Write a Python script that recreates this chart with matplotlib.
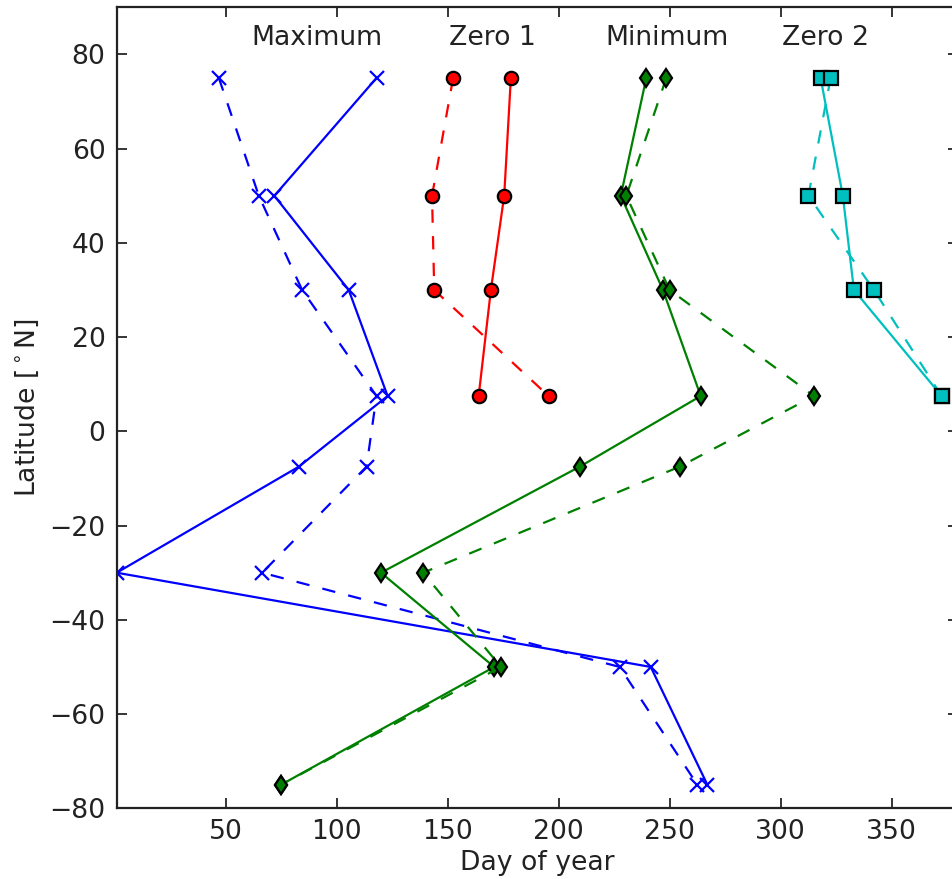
import matplotlib
matplotlib.use("Agg")
import matplotlib.pyplot as plt

lat8 = [75, 50, 30, 7.5, -7.5, -30, -50, -75]
lat4 = [75, 50, 30, 7.5]

max_solid = [118, 72, 105.5, 123, 83, 1, 241.5, 267]
max_dashed = [47, 65, 84.5, 118, 113.5, 66.5, 227.5, 262.5]

zero1_solid = [178.5, 175.5, 169.5, 164]
zero1_dashed = [152.5, 143, 144, 195.5]

min_solid = [239.5, 228, 247, 264, 209.5, 120, 171, 75]
min_dashed = [248.5, 230.5, 250, 315, 254.5, 139, 174, 75]

zero2_solid = [318, 328, 333, 372.5]
zero2_dashed = [322.5, 312.5, 342, 372.5]

labels = ["Maximum", "Zero 1", "Minimum", "Zero 2"]
label_x = [91, 170, 249, 320]
label_y = 83.5

xticks = [50, 100, 150, 200, 250, 300, 350]
yticks = [-80, -60, -40, -20, 0, 20, 40, 60, 80]

plt.rcParams['font.family'] = ['DejaVu Sans']
plt.rcParams['font.size'] = 12

fig = plt.figure(figsize=(952/160, 879/160), dpi=160, facecolor='white')
ax = fig.add_axes([116.7/952, (879-808.3)/879, 841.6/952, 801.0/879])

dash = (0, (6, 6))
lw = 1.0

ax.plot(max_solid, lat8, color='b', marker='x', ms=6, mew=1, lw=lw, ls='-')
ax.plot(max_dashed, lat8, color='b', marker='x', ms=6, mew=1, lw=lw, ls=dash)

ax.plot(zero1_solid, lat4, color='r', marker='o', ms=6, mec='k', mew=1, lw=lw, ls='-')
ax.plot(zero1_dashed, lat4, color='r', marker='o', ms=6, mec='k', mew=1, lw=lw, ls=dash)

ax.plot(min_solid, lat8, color='g', marker='d', ms=6, mec='k', mew=1, lw=lw, ls='-')
ax.plot(min_dashed, lat8, color='g', marker='d', ms=6, mec='k', mew=1, lw=lw, ls=dash)

ax.plot(zero2_solid, lat4, color='c', marker='s', ms=6, mec='k', mew=1, lw=lw, ls='-')
ax.plot(zero2_dashed, lat4, color='c', marker='s', ms=6, mec='k', mew=1, lw=lw, ls=dash)

for t, x in zip(labels, label_x):
    ax.text(x, label_y, t, ha='center', va='center', fontsize=12, color='#222222')

ax.set_xlim(1, 380)
ax.set_ylim(-80, 90)
ax.set_xticks(xticks)
ax.set_yticks(yticks)
ax.tick_params(direction='in', top=True, right=True, length=4.5, width=0.8, pad=5, labelsize=12, colors='#222222')
for s in ax.spines.values():
    s.set_linewidth(1.0)
    s.set_color('#222222')

ax.set_xlabel("Day of year", fontsize=12, labelpad=2, color='#222222')
ax.set_ylabel(r"Latitude [$^\circ$N]", fontsize=12, labelpad=4, color='#222222')

fig.savefig("out.png", dpi=160, facecolor='white')
